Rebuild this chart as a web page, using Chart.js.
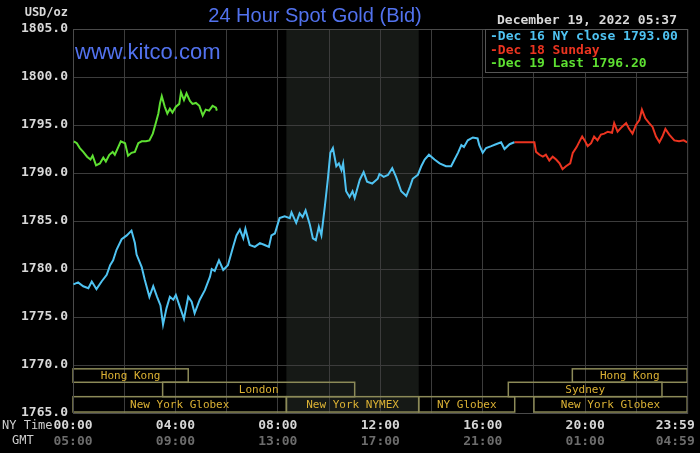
<!doctype html>
<html>
<head>
	<meta charset="utf-8">
	<title>24 Hour Spot Gold (Bid)</title>
	<script src="https://cdn.jsdelivr.net/npm/chart.js@4/dist/chart.umd.min.js"></script>
	<style>
		html, body { margin: 0; padding: 0; background: #000; }
		#holder { width: 700px; height: 453px; }
	</style>
</head>
<body>
	<div id="holder"><canvas id="chart-area"></canvas></div>
	<script>
	// times are minutes after 00:00 New York time
	var dec16Times = [1, 12, 24, 36, 44, 55, 67, 79, 87, 94, 102, 114, 126, 137, 145, 149, 161, 168, 179, 188, 197, 205, 211, 219, 227, 235, 241, 250, 260, 270, 278, 285, 297, 309, 321, 325, 332, 342, 352, 363, 375, 383, 391, 399, 404, 414, 426, 438, 449, 459, 465, 473, 484, 496, 508, 512, 523, 531,
		538, 545, 555, 562, 569, 576, 582, 590, 597, 603, 609, 617, 623, 629, 633, 640, 648, 655, 660, 672, 681, 689, 701, 714, 718, 728, 738, 748, 757, 769, 781, 790, 796, 808, 816, 824, 834, 847, 859, 874, 886, 894, 902, 910, 916, 925, 937, 948, 952, 960, 968, 980, 991, 1003, 1011, 1023, 1034];
	var dec16Values = [1778.4, 1778.6, 1778.2, 1778.0, 1778.7, 1777.9, 1778.7, 1779.4, 1780.4, 1780.9, 1782.0, 1783.1, 1783.5, 1784.0, 1782.7, 1781.5, 1780.2, 1778.9, 1777.1, 1778.2, 1777.1, 1776.2, 1774.2, 1775.9, 1777.1, 1776.8, 1777.3, 1776.1, 1774.8, 1777.1, 1776.6, 1775.4, 1776.8, 1777.8, 1779.2, 1780.0, 1779.8, 1780.9, 1779.9, 1780.4, 1782.3, 1783.5, 1784.1, 1783.2, 1784.2, 1782.5, 1782.3, 1782.7, 1782.5, 1782.3, 1783.5, 1783.7, 1785.3, 1785.5, 1785.3, 1785.9, 1784.8, 1785.8,
		1785.4, 1786.1, 1784.6, 1783.2, 1783.0, 1784.4, 1783.5, 1786.5, 1789.3, 1792.1, 1792.6, 1790.7, 1791.0, 1790.3, 1791.0, 1788.1, 1787.5, 1788.1, 1787.4, 1789.3, 1790.1, 1789.1, 1788.9, 1789.4, 1789.9, 1789.6, 1789.8, 1790.5, 1789.6, 1788.1, 1787.6, 1788.6, 1789.4, 1789.8, 1790.7, 1791.4, 1791.9, 1791.4, 1791.0, 1790.7, 1790.7, 1791.4, 1792.1, 1792.9, 1792.7, 1793.4, 1793.7, 1793.6, 1792.9, 1792.1, 1792.6, 1792.8, 1793.0, 1793.2, 1792.5, 1793.0, 1793.2];

	var dec18Times = [1034, 1081, 1085, 1093, 1101, 1108, 1116, 1124, 1132, 1140, 1147, 1155, 1165, 1171, 1180, 1188, 1193, 1200, 1206, 1214, 1221, 1229, 1237, 1245, 1253, 1263, 1268, 1276, 1286, 1296, 1303, 1311, 1319, 1327, 1333, 1341, 1350, 1358, 1366, 1374, 1381, 1388, 1397, 1409, 1420, 1431, 1439];
	var dec18Values = [1793.2, 1793.2, 1792.2, 1791.9, 1791.7, 1791.9, 1791.3, 1791.7, 1791.4, 1791.0, 1790.4, 1790.7, 1791.0, 1792.1, 1792.7, 1793.4, 1793.8, 1793.3, 1792.8, 1793.1, 1793.8, 1793.4, 1794.0, 1794.1, 1794.3, 1794.2, 1795.2, 1794.3, 1794.8, 1795.2, 1794.6, 1794.1, 1795.0, 1795.5, 1796.6, 1795.7, 1795.2, 1794.8, 1793.8, 1793.2, 1793.8, 1794.6, 1794.0, 1793.4, 1793.3, 1793.4, 1793.2];

	var dec19Times = [2, 9, 16, 24, 33, 41, 46, 54, 63, 71, 77, 85, 93, 98, 106, 112, 122, 129, 137, 145, 153, 161, 171, 179, 187, 194, 200, 204, 208, 215, 221, 227, 233, 241, 249, 253, 260, 266, 274, 280, 288, 296, 304, 311, 319, 327, 335, 337];
	var dec19Values = [1793.3, 1793.1, 1792.6, 1792.2, 1791.7, 1791.4, 1791.8, 1790.8, 1791.0, 1791.6, 1791.2, 1791.9, 1792.2, 1791.9, 1792.7, 1793.3, 1793.1, 1791.8, 1792.1, 1792.2, 1793.1, 1793.3, 1793.3, 1793.4, 1794.1, 1795.2, 1796.2, 1797.3, 1798.0, 1796.9, 1796.2, 1796.7, 1796.3, 1796.9, 1797.2, 1798.4, 1797.6, 1798.3, 1797.5, 1797.2, 1797.3, 1797.0, 1796.0, 1796.6, 1796.5, 1797.0, 1796.8, 1796.5];

	var seriesLabels = ['Dec 16 NY close 1793.00', 'Dec 18 Sunday', 'Dec 19 Last 1796.20'];
	var seriesColors = ['#4fc3f2', '#ec3420', '#5ee032'];

	// tick labels
	var nyTickLabels = ['00:00', '04:00', '08:00', '12:00', '16:00', '20:00', '23:59'];
	var gmtTickLabels = ['05:00', '09:00', '13:00', '17:00', '21:00', '01:00', '04:59'];
	var labelTicks = [0, 240, 480, 720, 960, 1200, 1411];
	var gridTicks = [0, 120, 240, 360, 480, 600, 720, 840, 960, 1080, 1200, 1320];

	// trading sessions: name, start, end (minutes), row
	var sessionNames = ['Hong Kong', 'Hong Kong', 'London', 'Sydney', 'New York Globex', 'New York NYMEX', 'NY Globex', 'New York Globex'];
	var sessionStart = [0, 1170, 210, 1020, 0, 500, 810, 1080];
	var sessionEnd = [270, 1439, 660, 1380, 500, 810, 1035, 1439];
	var sessionRow = [0, 0, 1, 1, 2, 2, 2, 2];
	var rowTop = [1769.6, 1768.2, 1766.7];
	var rowBottom = [1768.2, 1766.7, 1765.1];

	function pts(t, v) {
		return t.map(function(x, i) { return {x: x, y: v[i]}; });
	}

	var mono = '"DejaVu Sans Mono", "Liberation Mono", monospace';

	var decor = {
		id: 'decor',
		beforeDraw: function(chart) {
			var ctx = chart.ctx, a = chart.chartArea, xs = chart.scales.x;
			ctx.save();
			ctx.fillStyle = '#000';
			ctx.fillRect(0, 0, chart.width, chart.height);
			ctx.fillStyle = '#161916';
			var x1 = xs.getPixelForValue(500), x2 = xs.getPixelForValue(810);
			ctx.fillRect(x1, a.top, x2 - x1, a.bottom - a.top);
			ctx.restore();
		},
		beforeDatasetsDraw: function(chart) {
			var ctx = chart.ctx, a = chart.chartArea, xs = chart.scales.x, ys = chart.scales.y;
			ctx.save();
			ctx.strokeStyle = '#8c8a58';
			ctx.lineWidth = 1.5;
			ctx.font = '11px ' + mono;
			ctx.textAlign = 'center';
			ctx.textBaseline = 'middle';
			for (var i = 0; i < sessionNames.length; i++) {
				var l = xs.getPixelForValue(sessionStart[i]), r = xs.getPixelForValue(sessionEnd[i]);
				var t = ys.getPixelForValue(rowTop[sessionRow[i]]), b = ys.getPixelForValue(rowBottom[sessionRow[i]]);
				ctx.strokeRect(l, t, r - l, b - t);
				ctx.fillStyle = '#dcb234';
				ctx.fillText(sessionNames[i], (l + r) / 2, (t + b) / 2 + 1);
			}
			ctx.strokeStyle = '#4a4a4a';
			ctx.lineWidth = 1;
			ctx.strokeRect(a.left + 0.5, a.top + 0.5, a.right - a.left, a.bottom - a.top);
			ctx.restore();
		},
		afterDraw: function(chart) {
			var ctx = chart.ctx, a = chart.chartArea;
			ctx.save();
			// title and site
			ctx.fillStyle = '#5272ee';
			ctx.textAlign = 'center';
			ctx.textBaseline = 'middle';
			ctx.font = '20px "Liberation Sans", Arial, sans-serif';
			ctx.fillText('24 Hour Spot Gold (Bid)', 315, 16);
			ctx.textAlign = 'left';
			ctx.font = '22px "Liberation Sans", Arial, sans-serif';
			ctx.fillText('www.kitco.com', 75, 53);
			// corner texts
			ctx.font = 'bold 12px ' + mono;
			ctx.fillStyle = '#d8d8d8';
			ctx.textAlign = 'right';
			ctx.fillText('USD/oz', 68, 13);
			ctx.font = 'bold 13px ' + mono;
			ctx.fillText('December 19, 2022 05:37', 677, 21);
			ctx.textAlign = 'left';
			ctx.font = '12px ' + mono;
			ctx.fillStyle = '#cfcfcf';
			ctx.fillText('NY Time', 2, 426);
			ctx.fillText('GMT', 12, 441);
			// legend
			var lx = 485, ly = a.top, lw = a.right - lx, lh = 43;
			ctx.fillStyle = '#000';
			ctx.fillRect(lx, ly, lw, lh);
			ctx.strokeStyle = '#555';
			ctx.strokeRect(lx + 0.5, ly + 0.5, lw, lh);
			ctx.font = 'bold 13px ' + mono;
			for (var i = 0; i < seriesLabels.length; i++) {
				ctx.fillStyle = seriesColors[i];
				ctx.fillText('-' + seriesLabels[i], 490, ly + 8 + i * 13.5);
			}
			ctx.restore();
		}
	};

	function setTicks(list) {
		return function(scale) {
			scale.ticks = list.map(function(v) { return {value: v}; });
		};
	}

	var config = {
		type: 'line',
		data: {
			datasets: [
				{ label: seriesLabels[0], data: pts(dec16Times, dec16Values), borderColor: seriesColors[0] },
				{ label: seriesLabels[1], data: pts(dec18Times, dec18Values), borderColor: seriesColors[1] },
				{ label: seriesLabels[2], data: pts(dec19Times, dec19Values), borderColor: seriesColors[2] }
			]
		},
		options: {
			responsive: false,
			animation: false,
			parsing: false,
			elements: {
				point: { radius: 0 },
				line: { borderWidth: 2, tension: 0 }
			},
			layout: { padding: { top: 29, right: 12, left: 0, bottom: 0 }, autoPadding: false },
			plugins: { legend: { display: false }, tooltip: { enabled: false }, title: { display: false } },
			scales: {
				x: {
					type: 'linear', position: 'bottom', min: 0, max: 1439,
					afterBuildTicks: setTicks(gridTicks.concat([1411])),
					afterFit: function(s) { s.height = 19; },
					border: { display: false },
					grid: {
						drawTicks: false,
						color: function(c) { return c.tick && c.tick.value % 120 === 0 ? '#3c3c3c' : 'rgba(0,0,0,0)'; }
					},
					ticks: {
						autoSkip: false, maxRotation: 0, padding: 5,
						color: '#d6d6d6', font: { family: mono, size: 13, weight: 'bold' },
						callback: function(v) {
							var k = labelTicks.indexOf(v);
							return k < 0 ? '' : nyTickLabels[k];
						}
					}
				},
				x2: {
					type: 'linear', position: 'bottom', min: 0, max: 1439,
					afterBuildTicks: setTicks(labelTicks),
					afterFit: function(s) { s.height = 21; },
					border: { display: false },
					grid: { display: false, drawTicks: false },
					ticks: {
						autoSkip: false, maxRotation: 0, padding: 2,
						color: '#6c6c6c', font: { family: mono, size: 13, weight: 'bold' },
						callback: function(v) {
							var k = labelTicks.indexOf(v);
							return k < 0 ? '' : gmtTickLabels[k];
						}
					}
				},
				y: {
					min: 1765, max: 1805,
					afterFit: function(s) { s.width = 73; },
					border: { display: false },
					grid: { color: '#3c3c3c', drawTicks: false },
					ticks: {
						stepSize: 5, padding: 5,
						color: '#d8d8d8', font: { family: mono, size: 13, weight: 'bold' },
						callback: function(v) { return v.toFixed(1); }
					}
				}
			}
		},
		plugins: [decor]
	};

	window.onload = function() {
		var canvas = document.getElementById('chart-area');
		canvas.width = 700;
		canvas.height = 453;
		var ctx = canvas.getContext('2d');
		window.myLine = new Chart(ctx, config);
	};
	</script>
</body>
</html>
